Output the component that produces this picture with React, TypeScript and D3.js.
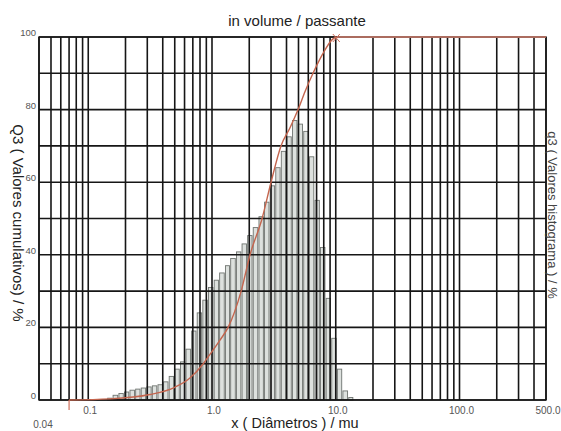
import React from "react";
import * as d3 from "d3";

// Histogram class bounds (µm) and heights (%)
const binEdges = [0.142, 0.157, 0.175, 0.194, 0.215, 0.239, 0.265, 0.294, 0.326, 0.362, 0.402, 0.446, 0.495, 0.55, 0.61, 0.677, 0.751, 0.834, 0.926, 1.03, 1.14, 1.27, 1.4, 1.56, 1.73, 1.92, 2.13, 2.37, 2.63, 2.92, 3.24, 3.59, 3.99, 4.42, 4.91, 5.45, 6.05, 6.72, 7.45, 8.27, 9.18, 10.2, 11.3, 12.6, 13.9];
const binValues = [0.5, 1.3, 1.8, 2.2, 2.7, 3.0, 3.3, 3.6, 3.9, 4.2, 5.0, 6.5, 8.5, 10.5, 14, 19, 24, 27.5, 31, 33, 35, 37, 39, 40.8, 43, 45.3, 47.5, 50.5, 54.5, 59, 64, 68.5, 72.5, 77, 76, 74, 67, 55, 42, 28, 17, 8.5, 2.5, 0.7];

// Cumulative curve (µm, %)
const cumSizes = [0.07, 0.15, 0.315, 0.5, 0.66, 0.85, 0.96, 1.16, 1.35, 1.72, 2.03, 2.54, 3.0, 3.61, 4.27, 4.96, 5.65, 6.55, 7.75, 9.5, 10.2];
const cumValues = [0, 0.3, 1.5, 3.5, 6, 10, 12.5, 16.5, 20, 30, 40, 50, 60, 70, 75, 80, 85, 90, 95, 99.5, 100];
const cumEndSize = 500;

const xTickValues = [0.1, 1, 10, 100, 500];
const xTickLabels = ["0.1", "1.0", "10.0", "100.0", "500.0"];
const xMinLabel = "0.04";
const yTickValues = [0, 20, 40, 60, 80, 100];
const yGridValues = [0, 10, 20, 30, 40, 50, 60, 70, 80, 90, 100];

const title = "in volume / passante";
const xTitle = "x ( Diâmetros ) / mu";
const yTitle = "Q3 ( Valores cumulativos) / %";
const y2Title = "q3 ( Valores histograma ) / %";

export default function App() {
  const W = 561, H = 431;
  const L = 39, R = 546, T = 37, B = 400;
  const x = d3.scaleLog().domain([0.04, 500]).range([L, R]);
  const y = d3.scaleLinear().domain([0, 100]).range([B, T]);
  const gridX = x.ticks();
  const font = "'Liberation Sans', Arial, sans-serif";

  const cumPts: [number, number][] = cumSizes.map((s, i) => [s, cumValues[i]]);
  const line = d3
    .line<[number, number]>()
    .x((d) => x(d[0]))
    .y((d) => y(d[1]))
    .curve(d3.curveMonotoneX);
  const lastS = cumSizes[cumSizes.length - 1];

  return (
    <svg width={W} height={H} style={{ position: "absolute", left: 0, top: 0, background: "#fff" }} fontFamily={font}>
      <rect x={0} y={0} width={W} height={H} fill="#fff" />
      {/* bars */}
      {binValues.map((v, i) => {
        const x0 = x(binEdges[i]);
        const x1 = x(binEdges[i + 1]);
        return (
          <rect key={"b" + i} x={x0 + 0.6} y={y(v)} width={Math.max(0.5, x1 - x0 - 1.2)} height={B - y(v)}
            fill="#dde1de" stroke="#6f7470" strokeWidth={0.9} />
        );
      })}
      {/* grid */}
      {gridX.map((t, i) => (
        <line key={"gx" + i} x1={x(t)} x2={x(t)} y1={T} y2={B} stroke="#161616" strokeWidth={1.6} />
      ))}
      {yGridValues.map((t, i) => (
        <line key={"gy" + i} x1={L} x2={R} y1={y(t)} y2={y(t)} stroke="#161616" strokeWidth={1.6} />
      ))}
      <rect x={L} y={T} width={R - L} height={B - T} fill="none" stroke="#161616" strokeWidth={1.4} />
      {/* cumulative curve */}
      <path d={line(cumPts) || ""} fill="none" stroke="#c4654e" strokeWidth={1.4} />
      <line x1={x(lastS)} x2={x(cumEndSize)} y1={y(100)} y2={y(100)} stroke="#d98573" strokeWidth={1.3} />
      <line x1={x(cumSizes[0])} x2={x(cumSizes[0])} y1={B} y2={B + 10} stroke="#d0705c" strokeWidth={1.2} />
      <path d={`M${x(lastS) - 4},${y(100) - 3} L${x(lastS) + 3},${y(100) + 5} M${x(lastS) - 4},${y(100) + 5} L${x(lastS) + 3},${y(100) - 3}`}
        stroke="#d0705c" strokeWidth={1} fill="none" />
      {/* y tick labels */}
      {yTickValues.map((t, i) => (
        <text key={"yl" + i} x={36} y={y(t) - 1} fontSize={9.5} fill="#555" textAnchor="end">{t}</text>
      ))}
      {/* x tick labels */}
      {xTickValues.map((t, i) => (
        <text key={"xl" + i} x={x(t) + 2} y={414} fontSize={10} fill="#555" textAnchor="middle">{xTickLabels[i]}</text>
      ))}
      <text x={x(0.04) + 4} y={428} fontSize={10} fill="#555" textAnchor="middle">{xMinLabel}</text>
      {/* titles */}
      <text x={297} y={26} fontSize={15} fill="#222" textAnchor="middle">{title}</text>
      <text x={295} y={428} fontSize={14.5} fill="#222" textAnchor="middle">{xTitle}</text>
      <text transform={`translate(13,223) rotate(90)`} fontSize={15} fill="#222" textAnchor="middle">{yTitle}</text>
      <text transform={`translate(548,215) rotate(90)`} fontSize={13} fill="#444" textAnchor="middle">{y2Title}</text>
    </svg>
  );
}
